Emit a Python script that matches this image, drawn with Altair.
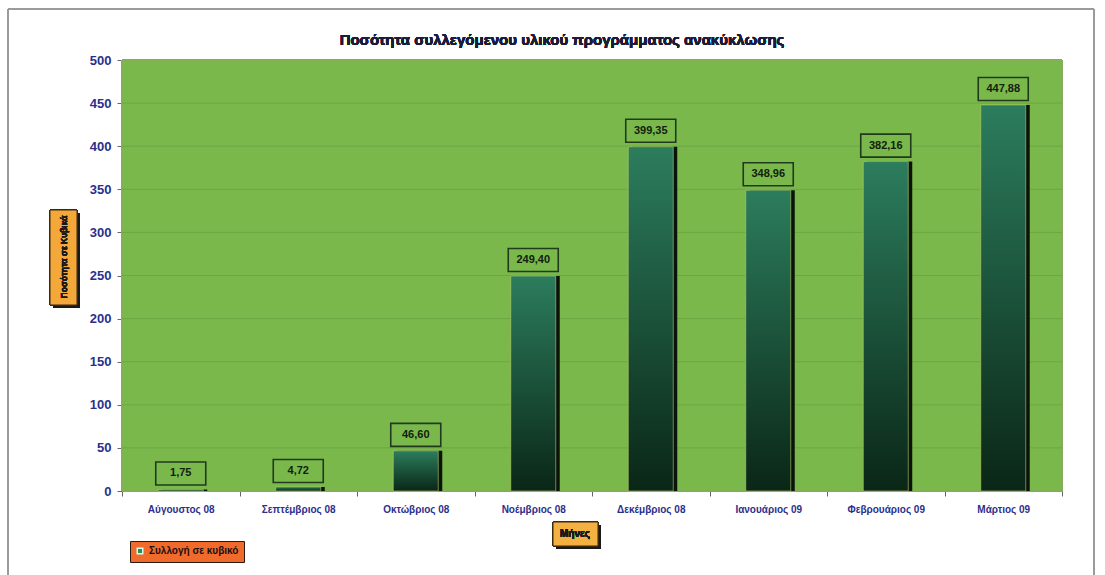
import altair as alt
import pandas as pd

# Monthly recycled material (cubic metres)
months = [
    "Αύγουστος 08", "Σεπτέμβριος 08", "Οκτώβριος 08", "Νοέμβριος 08",
    "Δεκέμβριος 08", "Ιανουάριος 09", "Φεβρουάριος 09", "Μάρτιος 09",
]
volumes = [1.75, 4.72, 46.60, 249.40, 399.35, 348.96, 382.16, 447.88]
y_ticks = [0, 50, 100, 150, 200, 250, 300, 350, 400, 450, 500]
series_name = "Συλλογή σε κυβικό"
chart_title = "Ποσότητα συλλεγόμενου υλικού προγράμματος ανακύκλωσης"

df = pd.DataFrame({
    "month": months,
    "volume": volumes,
    "label": [f"{v:.2f}".replace(".", ",") for v in volumes],
    "series": [series_name] * len(months),
})
grid_df = pd.DataFrame({"volume": y_ticks[1:-1]})

W, H = 940, 431
GREEN_BG = "#7ab84b"
AXIS_BLUE = "#2b2f8c"
FONT = "Liberation Sans"

y_scale = alt.Scale(domain=[0, 500], nice=False)
y_axis = alt.Axis(values=y_ticks, labelFont=FONT, labelFontSize=13,
                  labelFontWeight="bold", labelColor=AXIS_BLUE, labelPadding=6,
                  tickSize=5, tickColor="#666666", domainColor="#666666", grid=False)

x_enc = alt.X(
    "month:N", sort=months, title=None,
    scale=alt.Scale(paddingInner=0, paddingOuter=0),
    axis=alt.Axis(labelAngle=0, labelFont=FONT, labelFontSize=10, labelFontWeight="bold",
                  labelColor=AXIS_BLUE, labelPadding=8, tickBand="extent", tickSize=5,
                  tickColor="#666666", domainColor="#666666", grid=False),
)
y_enc = alt.Y("volume:Q", title=None, scale=y_scale, axis=y_axis)

# Plot-area background and horizontal gridlines
plot_bg = alt.Chart(df).mark_rect(fill=GREEN_BG, stroke="#8aa860", strokeWidth=1).encode(
    x=alt.value(0), x2=alt.value(W), y=alt.value(0), y2=alt.value(H),
)
grid = alt.Chart(grid_df).mark_rule(color="#5a8f36", opacity=0.5, strokeWidth=0.8).encode(
    y=y_enc,
)

base = alt.Chart(df)

shadow = base.mark_bar(size=45, xOffset=4, color="#0b140c").encode(x=x_enc, y=y_enc)

bars = base.mark_bar(
    size=45,
    stroke="#b7cf6a", strokeWidth=0.6,
    color=alt.Gradient(
        gradient="linear", x1=0, x2=0, y1=0, y2=1,
        stops=[alt.GradientStop(color="#2c7d5d", offset=0),
               alt.GradientStop(color="#0a2617", offset=1)],
    ),
).encode(x=x_enc, y=y_enc)

# Boxed value labels above each bar
label_box = base.mark_point(
    shape="M-1,-0.46H1V0.46H-1Z", size=2500, filled=True, fill=GREEN_BG,
    stroke="#1f3a1c", strokeWidth=1.6, opacity=1, yOffset=-16,
).encode(x=x_enc, y=y_enc)

label_text = base.mark_text(
    font=FONT, fontSize=11, fontWeight="bold", color="#12200f", yOffset=-16,
).encode(x=x_enc, y=y_enc, text="label:N")

# Legend entry
legend_layer = base.mark_square(size=0, opacity=0).encode(
    color=alt.Color("series:N", scale=alt.Scale(range=["#2a8a5a"]),
                    legend=alt.Legend(title=None, orient="none", legendX=8, legendY=481,
                                      fillColor="#f06a2c", strokeColor="#2a1a10",
                                      padding=5, symbolType="square", symbolSize=30,
                                      symbolOpacity=1, symbolStrokeColor="#cfe",
                                      labelFont=FONT, labelFontSize=10,
                                      labelFontWeight="bold", labelColor="#1a1010")),
)

# Outer frame
frame = alt.Chart(df).mark_rect(fillOpacity=0, stroke="#9a9a9a", strokeWidth=1).encode(
    x=alt.value(-114), x2=alt.value(972), y=alt.value(-51), y2=alt.value(540),
)

title_text = alt.Chart(df).mark_text(
    text=chart_title, font=FONT, fontSize=15, fontWeight="bold", color="#1c1c3a",
).encode(x=alt.value(W / 2 - 30), y=alt.value(-20))

# Boxed axis titles
def title_box(x0, x1, y0, y1, fill):
    sh = alt.Chart(df).mark_rect(fill="#1a1a1a").encode(
        x=alt.value(x0 + 3), x2=alt.value(x1 + 3), y=alt.value(y0 + 3), y2=alt.value(y1 + 3))
    bx = alt.Chart(df).mark_rect(fill=fill, stroke="#3a2a10", strokeWidth=1).encode(
        x=alt.value(x0), x2=alt.value(x1), y=alt.value(y0), y2=alt.value(y1))
    return sh + bx

ytitle_box = title_box(-72, -45, 150, 245, "#f4a83a")
ytitle_text = alt.Chart(df).mark_text(
    text="Ποσότητα σε Κυβικά", angle=270, font=FONT, fontSize=8.5, fontWeight="bold",
    color="#1a1a1a",
).encode(x=alt.value(-58), y=alt.value(197))

xtitle_box = title_box(431, 476, 462, 486, "#f4b040")
xtitle_text = alt.Chart(df).mark_text(
    text="Μήνες", font=FONT, fontSize=10, fontWeight="bold", color="#1a1a1a",
).encode(x=alt.value(453), y=alt.value(474))

chart = alt.layer(
    frame, plot_bg, grid, title_text, shadow, bars, label_box, label_text, legend_layer,
    ytitle_box, ytitle_text, xtitle_box, xtitle_text,
).properties(
    width=W, height=H,
    background="white",
    autosize=alt.AutoSizeParams(type="none"),
    padding={"left": 122, "top": 60, "right": 43, "bottom": 84},
).configure_view(
    stroke=None,
)

chart.save("out.html", embed_options={"renderer": "svg", "actions": False})
